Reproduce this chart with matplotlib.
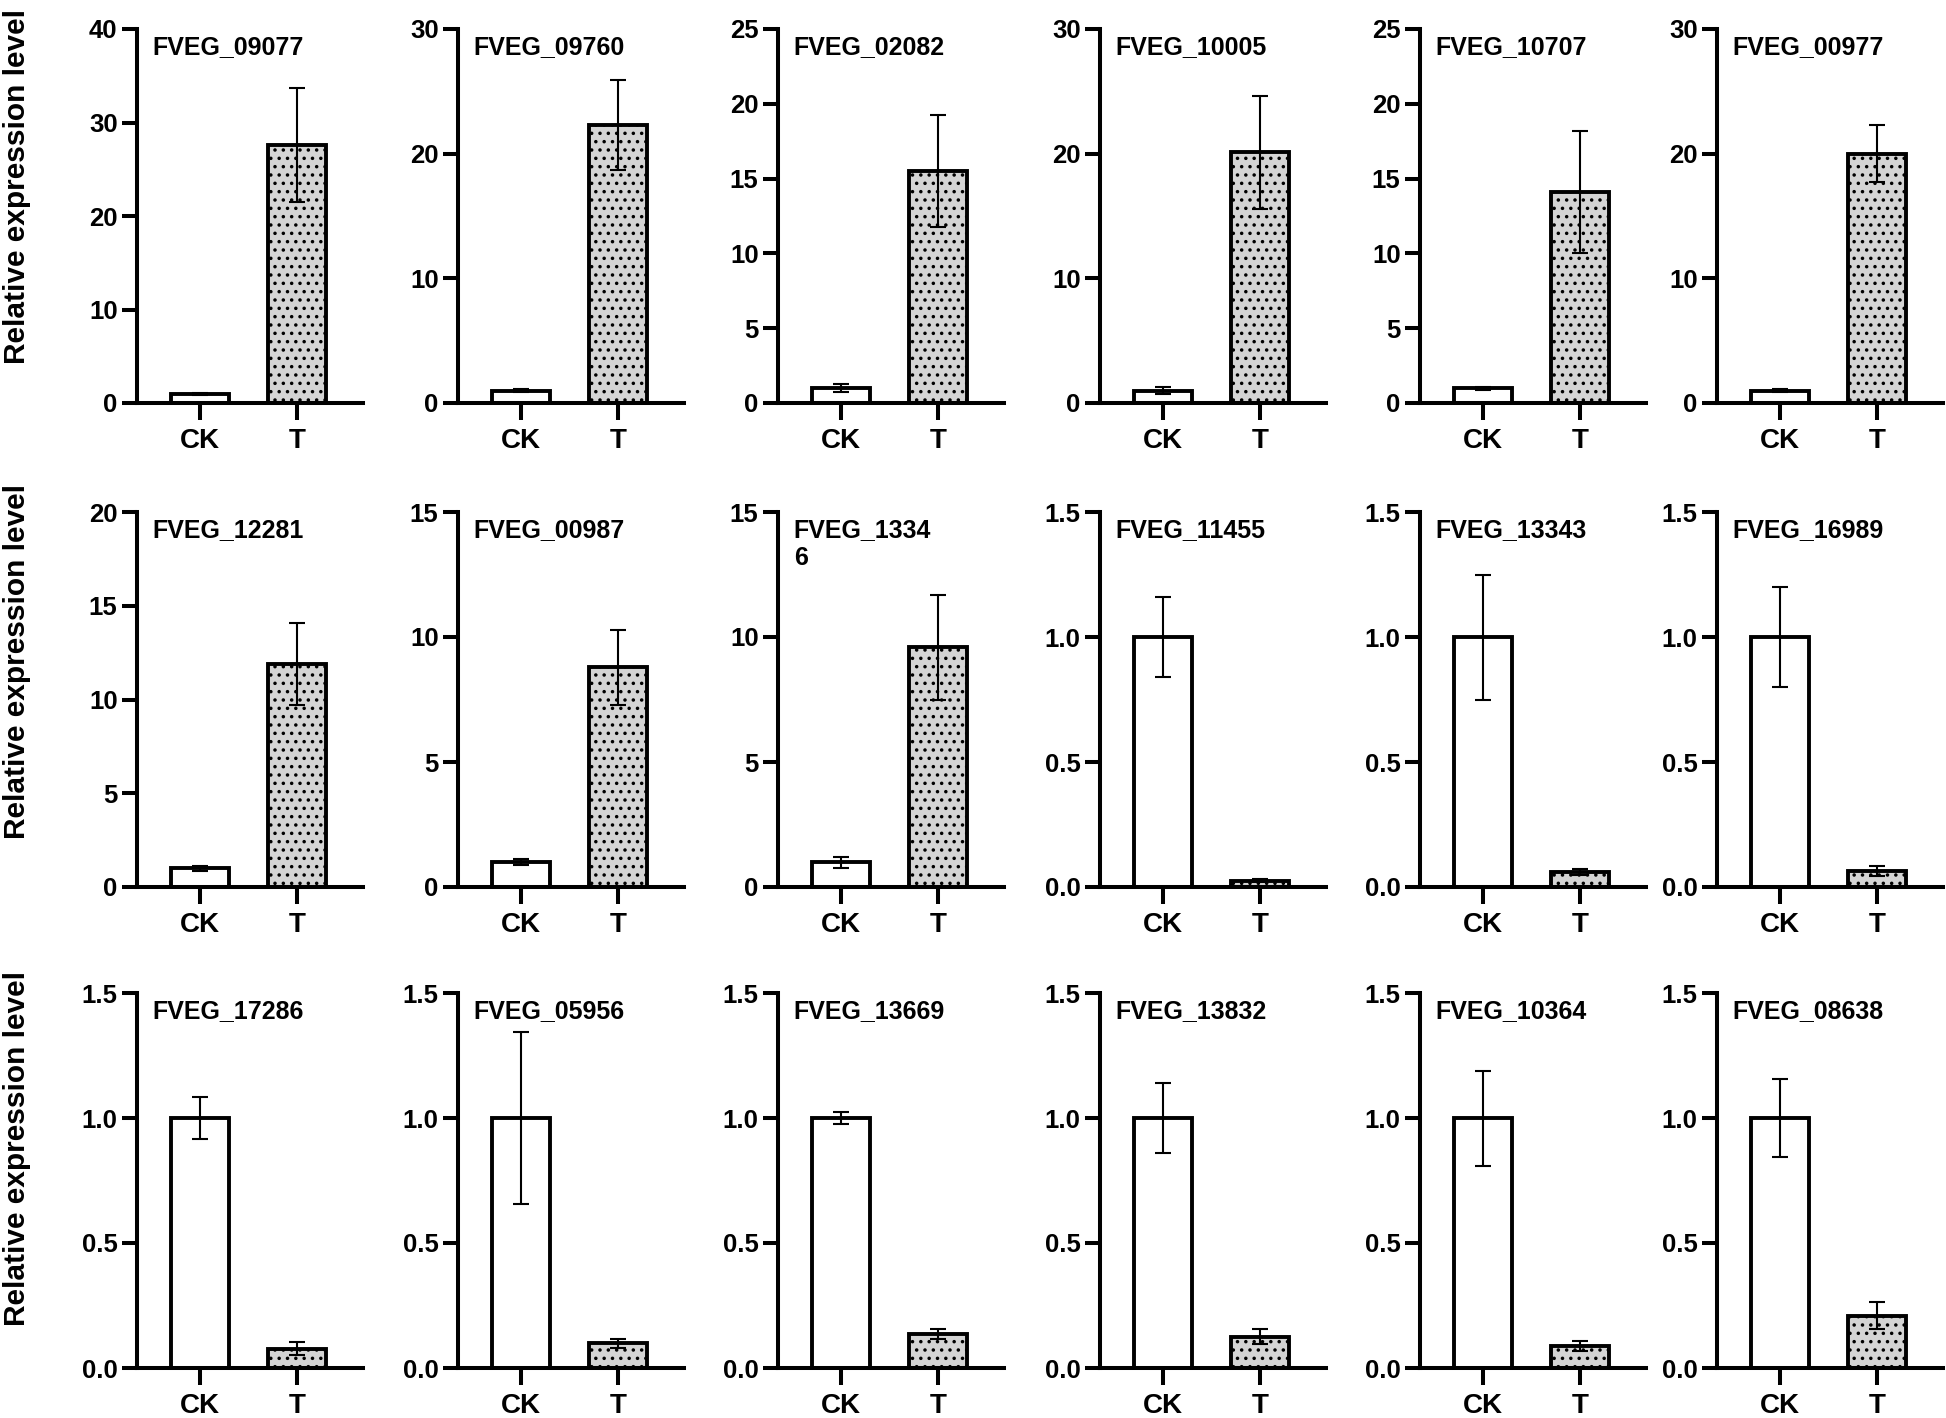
import matplotlib
matplotlib.use("Agg")
import matplotlib.pyplot as plt

plt.rcParams['font.family'] = ['Liberation Sans', 'DejaVu Sans']
plt.rcParams['font.weight'] = 'bold'
plt.rcParams['hatch.linewidth'] = 1.3
plt.rcParams['hatch.color'] = 'black'

groups = ['CK', 'T']

genes = ['FVEG_09077', 'FVEG_09760', 'FVEG_02082', 'FVEG_10005', 'FVEG_10707', 'FVEG_00977',
         'FVEG_12281', 'FVEG_00987', 'FVEG_1334\n6', 'FVEG_11455', 'FVEG_13343', 'FVEG_16989',
         'FVEG_17286', 'FVEG_05956', 'FVEG_13669', 'FVEG_13832', 'FVEG_10364', 'FVEG_08638']

ck_mean = [1.0] * 18
ck_err = [0.12, 0.15, 0.25, 0.3, 0.1, 0.15,
          0.12, 0.12, 0.22, 0.16, 0.25, 0.2,
          0.085, 0.345, 0.025, 0.14, 0.19, 0.155]

t_mean = [27.6, 22.3, 15.5, 20.1, 14.1, 20.0,
          11.9, 8.8, 9.6, 0.025, 0.06, 0.065,
          0.078, 0.1, 0.135, 0.125, 0.09, 0.21]
t_err = [6.1, 3.6, 3.75, 4.55, 4.1, 2.3,
         2.2, 1.5, 2.1, 0.006, 0.012, 0.02,
         0.025, 0.018, 0.02, 0.03, 0.02, 0.055]

y_max = [40, 30, 25, 30, 25, 30,
         20, 15, 15, 1.5, 1.5, 1.5,
         1.5, 1.5, 1.5, 1.5, 1.5, 1.5]
y_step = [10, 10, 5, 10, 5, 10,
          5, 5, 5, 0.5, 0.5, 0.5,
          0.5, 0.5, 0.5, 0.5, 0.5, 0.5]

W, H = 1946, 1418
fig = plt.figure(figsize=(W / 100, H / 100), dpi=100)

col_left = [137, 458, 778, 1100, 1420, 1717]
ax_w = 226
rows = [(29, 403), (512, 887), (993, 1368)]
label_y = [186, 662, 1148]

for i in range(18):
    r, c = divmod(i, 6)
    top, bot = rows[r]
    ax = fig.add_axes([col_left[c] / W, 1 - bot / H, ax_w / W, (bot - top) / H])

    ax.bar([0], [ck_mean[i]], width=0.6, color='white', edgecolor='black', linewidth=2.8, zorder=2)
    ax.bar([1], [t_mean[i]], width=0.6, color='#d4d4d4', edgecolor='black', linewidth=2.8,
           hatch='..', zorder=2)
    ax.errorbar([0, 1], [ck_mean[i], t_mean[i]], yerr=[ck_err[i], t_err[i]], fmt='none',
                ecolor='black', elinewidth=1.5, capsize=6, capthick=1.5, zorder=3)

    ax.set_xlim(-0.65, 1.68)
    ax.set_ylim(0, y_max[i])
    n = int(round(y_max[i] / y_step[i]))
    ticks = [k * y_step[i] for k in range(n + 1)]
    ax.set_yticks(ticks)
    if y_step[i] < 1:
        ax.set_yticklabels(['%.1f' % t for t in ticks])
    else:
        ax.set_yticklabels(['%d' % t for t in ticks])
    ax.set_xticks([0, 1])
    ax.set_xticklabels(groups, fontsize=20, fontweight='bold')

    for s in ['top', 'right']:
        ax.spines[s].set_visible(False)
    for s in ['left', 'bottom']:
        ax.spines[s].set_linewidth(2.9)
    ax.tick_params(axis='y', length=11, width=2.9, labelsize=18.5, pad=3)
    ax.tick_params(axis='x', length=12, width=2.9, labelsize=20, pad=6)
    for lab in ax.get_yticklabels():
        lab.set_fontweight('bold')

    ax.text(0.07, 0.985, genes[i], transform=ax.transAxes, ha='left', va='top',
            fontsize=18, fontweight='bold', linespacing=1.25)

for y in label_y:
    fig.text(17 / W, 1 - y / H, 'Relative expression level', rotation=90,
             ha='center', va='center', fontsize=21.5, fontweight='bold')

fig.savefig('out.png', dpi=100)
